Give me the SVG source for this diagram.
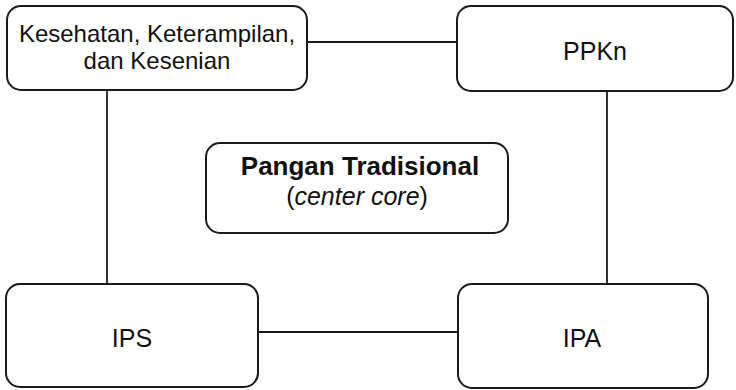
<svg xmlns="http://www.w3.org/2000/svg" width="736" height="390" viewBox="0 0 736 390">
<style>
.box{fill:#fff;stroke:#1a1a1a;stroke-width:2}
.ln{stroke:#1a1a1a;stroke-width:1.8;fill:none}
text{font-family:"Liberation Sans",Arial,sans-serif;font-size:24px;fill:#111;text-anchor:middle}
.b{font-weight:bold;font-size:26px}
.i{font-style:italic}
.big{font-size:25px}
</style>
<rect width="736" height="390" fill="#fff"/>
<g id="connectors">
<line class="ln" x1="307" y1="42" x2="457" y2="42"/>
<line class="ln" x1="107" y1="90" x2="107" y2="284"/>
<line class="ln" x1="607" y1="91" x2="607" y2="284"/>
<line class="ln" x1="258" y1="332" x2="458" y2="332"/>
</g>
<g id="kkk">
<rect class="box" x="7" y="6" width="300" height="84" rx="14"/>
<text x="157" y="42">Kesehatan, Keterampilan,</text>
<text x="157" y="69">dan Kesenian</text>
</g>
<g id="ppkn">
<rect class="box" x="457" y="6" width="276" height="85" rx="14"/>
<text class="big" x="595" y="60">PPKn</text>
</g>
<g id="center">
<rect class="box" x="206" y="143" width="302" height="90" rx="14"/>
<text class="b" x="360" y="175">Pangan Tradisional</text>
<text class="big" x="357" y="205">(<tspan class="i">center core</tspan>)</text>
</g>
<g id="ips">
<rect class="box" x="6" y="284" width="252" height="103" rx="14"/>
<text class="big" x="132" y="347">IPS</text>
</g>
<g id="ipa">
<rect class="box" x="458" y="284" width="250" height="104" rx="14"/>
<text class="big" x="582" y="347">IPA</text>
</g>
</svg>
